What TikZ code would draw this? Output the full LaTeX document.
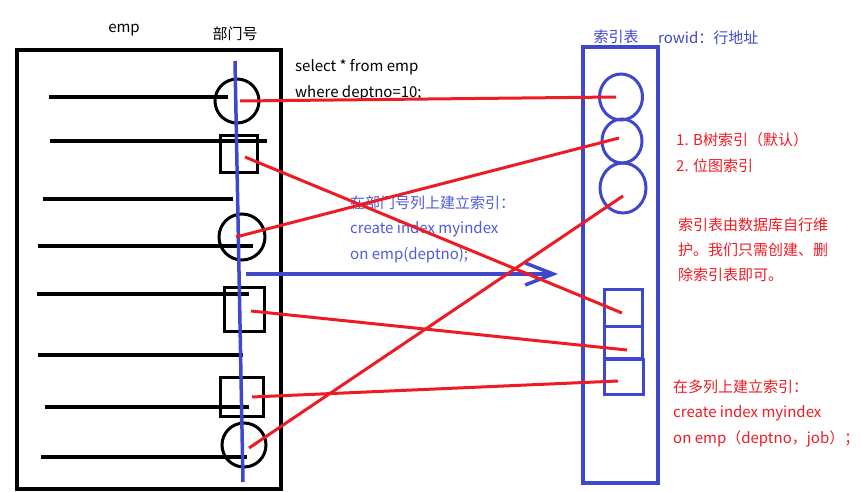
\documentclass[tikz,border=0pt]{standalone}
\usepackage{fontspec}
\setmainfont{Noto Sans CJK SC}
\usetikzlibrary{shapes.geometric,arrows.meta,calc}
\definecolor{paintred}{RGB}{237,28,36}
\definecolor{paintblue}{RGB}{63,72,204}
\definecolor{textblue}{RGB}{80,90,220}
\begin{document}
\begin{tikzpicture}[x=1pt, y={(0pt,-1pt)}, font=\fontsize{15}{17}\selectfont]
\tikzstyle{row}=[line width=3.5pt]
\tikzstyle{rowcircle}=[circle,draw,line width=3pt,minimum size=44pt,inner sep=0pt]
\tikzstyle{rowsquare}=[rectangle,draw,line width=3pt,inner sep=0pt]
\tikzstyle{idxcircle}=[ellipse,draw=paintblue,line width=3pt,inner sep=0pt]
\tikzstyle{idxsquare}=[rectangle,draw=paintblue,line width=3pt,inner sep=0pt,minimum width=38pt]
\tikzstyle{link}=[paintred,line width=3pt]
\tikzstyle{label}=[anchor=west,inner sep=0pt]

\useasboundingbox (0,0) rectangle (861,492);

% emp table
\node[draw, line width=4.5pt, inner sep=0pt, minimum width=264pt, minimum height=439pt] (emp) at (149,269.5) {};
\node[] (empname) at (124,30) {emp};
\node[] (deptcol) at (235,34) {部门号};

\draw[row] (49,97) -- (228,97);
\draw[row] (50,141) -- (267,141);
\draw[row] (43,199) -- (233,199);
\draw[row] (38,246) -- (253,246);
\draw[row] (37,294) -- (249,294);
\draw[row] (38,355) -- (243,355);
\draw[row] (45,407) -- (249,407);
\draw[row] (41,457) -- (247,457);

\node[rowcircle] (ec1) at (237,101) {};
\node[rowsquare, minimum width=37pt, minimum height=37pt] (es1) at (238.5,153.5) {};
\node[rowcircle, minimum size=46pt] (ec2) at (242,237) {};
\node[rowsquare, minimum width=40pt, minimum height=44pt] (es2) at (244,309) {};
\node[rowsquare, minimum width=43pt, minimum height=39pt] (es3) at (241.5,396.5) {};
\node[rowcircle] (ec3) at (244,445) {};

\draw[paintblue, line width=3.5pt] (235,61) -- (243,482);

% index table
\node[draw=paintblue, line width=3.5pt, inner sep=0pt, minimum width=75pt, minimum height=436pt] (idx) at (620.5,265) {};
\node[paintblue] (idxname) at (616,37) {索引表};
\node[label, paintblue] (rowid) at (658,38) {rowid：行地址};

\node[idxcircle, minimum width=43pt, minimum height=46pt] (ic1) at (621,97) {};
\node[idxcircle, minimum width=40pt, minimum height=44pt] (ic2) at (622,141) {};
\node[idxcircle, minimum width=46pt, minimum height=50pt] (ic3) at (623,188) {};
\node[idxsquare, minimum height=37pt] (is1) at (623,307.5) {};
\node[idxsquare, minimum height=32pt] (is2) at (623,342) {};
\node[idxsquare, minimum width=39pt, minimum height=35pt] (is3) at (623.5,376.5) {};

% texts
\node[label] (sql1) at (295,67) {select * from emp};
\node[label] (sql2) at (295,93) {where deptno=10;};

\node[label, textblue] (mid1) at (350,203) {在部门号列上建立索引：};
\node[label, textblue] (mid2) at (350,229) {create index myindex};
\node[label, textblue] (mid3) at (350,255) {on emp(deptno);};

\node[label, paintred] (kind1) at (676,140) {1. B树索引（默认）};
\node[label, paintred] (kind2) at (676,166) {2. 位图索引};

\node[label, paintred] (note1) at (678,225) {索引表由数据库自行维};
\node[label, paintred] (note2) at (678,250) {护。我们只需创建、删};
\node[label, paintred] (note3) at (678,275) {除索引表即可。};

\node[label, paintred] (multi1) at (673,387) {在多列上建立索引：};
\node[label, paintred] (multi2) at (673,413) {create index myindex};
\node[label, paintred] (multi3) at (673,439) {on emp（deptno，job）；};

% arrow
\coordinate (arrowtail) at (246,274);
\coordinate (arrowhead) at (558,274);
\draw[paintblue, line width=3.5pt, -{Straight Barb[length=28pt,width=22pt]}] (arrowtail) -- (arrowhead);

% red links
\draw[link] ($(ec1)+(3,0)$) -- ($(ic1)+(-5,0)$);
\draw[link] ($(es1)+(6.5,3.5)$) -- ($(is1)+(-1,5.5)$);
\draw[link] ($(ec2)+(-6,0)$) -- ($(ic2)+(-3,-3)$);
\draw[link] ($(es2)+(7,2)$) -- ($(is2)+(4,8)$);
\draw[link] ($(ec3)+(5,3)$) -- ($(ic3)+(0,8)$);
\draw[link] ($(es3)+(10.5,0.5)$) -- ($(is3)+(-5.5,4.5)$);

\end{tikzpicture}
\end{document}
